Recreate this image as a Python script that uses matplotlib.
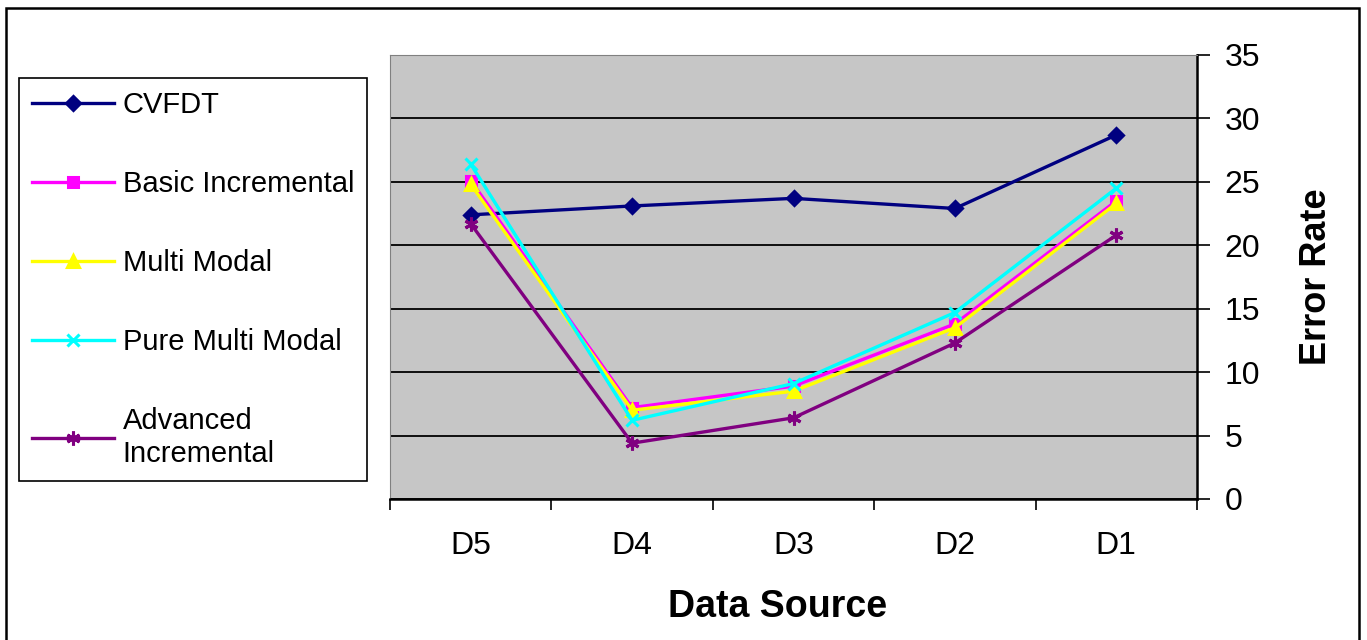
import numpy as np
import matplotlib.pyplot as plt
from matplotlib.patches import Rectangle

plt.rcParams['font.family'] = ['Liberation Sans', 'DejaVu Sans']

### Error rate per data source for each learner
sources = ["D5", "D4", "D3", "D2", "D1"]
cvfdt = [22.4, 23.1, 23.7, 22.9, 28.7]
basic_incremental = [25.1, 7.2, 8.9, 13.8, 23.5]
multi_modal = [24.8, 7.0, 8.5, 13.5, 23.3]
pure_multi_modal = [26.4, 6.2, 9.1, 14.7, 24.5]
advanced_incremental = [21.7, 4.4, 6.4, 12.3, 20.8]

series = [
    ("CVFDT", cvfdt, "#000080", "D", 7),
    ("Basic Incremental", basic_incremental, "#FF00FF", "s", 7),
    ("Multi Modal", multi_modal, "#FFFF00", "^", 8),
    ("Pure Multi Modal", pure_multi_modal, "#00FFFF", "x", 9),
    ("Advanced\nIncremental", advanced_incremental, "#800080", (6, 2, 0), 10),
]

fig = plt.figure(figsize=(13.67, 6.4), dpi=100)
ax = fig.add_axes([390 / 1367, 1 - 499 / 640, 807 / 1367, 444 / 640])
ax.set_facecolor("#c6c6c6")

x = np.arange(len(sources))
for label, vals, col, mk, ms in series:
    ax.plot(x, vals, color=col, lw=2.4, marker=mk, ms=ms, mew=2.2,
            mec=col, mfc=col, label=label)

ax.set_xlim(-0.5, len(sources) - 0.5)
ax.set_ylim(0, 35)
ax.set_yticks(range(0, 36, 5))
ax.yaxis.grid(True, color="black", lw=1.3)
ax.set_axisbelow(True)

# category labels centred, tick marks on the boundaries
ax.set_xticks(x)
ax.set_xticklabels(sources, fontsize=23)
ax.tick_params(axis="x", which="major", length=0, pad=23)
ax.set_xticks(np.arange(-0.5, len(sources)), minor=True)
ax.tick_params(axis="x", which="minor", length=8, width=1.2, direction="out")

ax.yaxis.tick_right()
ax.yaxis.set_label_position("right")
ax.tick_params(axis="y", length=9, width=1.2, labelsize=23, pad=11)

ax.spines["top"].set_color("#808080")
ax.spines["left"].set_color("#808080")
ax.spines["bottom"].set_linewidth(1.8)
ax.spines["right"].set_linewidth(1.8)

ax.set_xlabel("Data Source", fontsize=27, fontweight="bold", labelpad=20, x=0.48)
ax.set_ylabel("Error Rate", fontsize=26, fontweight="bold", labelpad=28)

leg = fig.legend(loc="upper left", bbox_to_anchor=(19 / 1367, 1 - 78 / 640),
                 fontsize=21, handlelength=2.8, handletextpad=0.3,
                 labelspacing=1.75, borderpad=0.45, fancybox=False,
                 edgecolor="black", framealpha=1, borderaxespad=0)
leg.get_frame().set_linewidth(1.2)

# outer border round the whole chart
fig.patches.append(Rectangle((6 / 1367, -0.02), 1353 / 1367, 1 - 8 / 640 + 0.02,
                             transform=fig.transFigure, fill=False,
                             ec="black", lw=1.8))

fig.savefig("out.png", dpi=100)
